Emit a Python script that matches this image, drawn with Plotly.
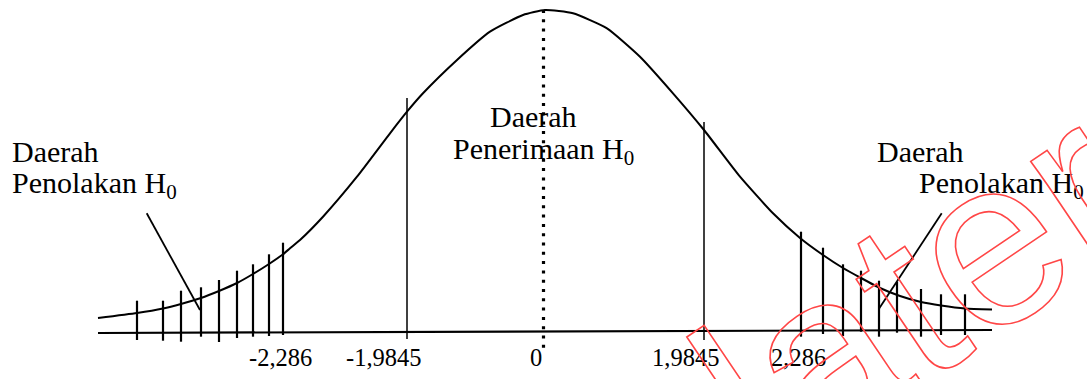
import plotly.graph_objects as go

# ---- data (schematic units = picture units) ----
curve_x = [98, 137, 163, 181, 201, 219, 237, 253, 269, 283, 290, 300, 323, 357, 390, 407, 423,
           457, 490, 523, 545, 573, 607, 640, 673, 704, 740, 773, 800, 823, 843, 861, 880,
           900, 921, 941, 965, 992]
curve_y = [318, 313, 308.5, 304, 298, 291, 283, 274, 264, 254.3, 248.3, 240, 216.7,
           176.7, 133.3, 111.7, 93.3, 60, 31.7, 15, 10, 13.3, 28.3, 56.7, 93.3, 130, 176.7,
           213.3, 238, 255, 268, 278, 288, 296, 302, 305.5, 308.5, 309.5]

axis_x = [98, 992]
axis_y = [333, 330]

left_hatch_x = [137, 163, 181, 201, 219, 237, 253, 269, 283]
left_hatch_top = [300.7, 300.7, 290.7, 287.3, 280, 270.7, 264.3, 254.3, 242.7]
left_hatch_bot = [340, 340.7, 341.7, 336.7, 342, 338, 336.7, 336, 335]

right_hatch_x = [801, 823, 843, 861, 879, 897, 921, 941, 965]
right_hatch_top = [231.7, 247.7, 264.3, 270.7, 280.7, 282, 289, 294.3, 294.3]
right_hatch_bot = [336.7, 334, 336, 331.7, 336.7, 332.7, 336.7, 335, 335]

crit_x = [407, 704]
crit_top = [98, 122]
crit_bot = [339, 340]

center_x = 543.5
center_top, center_bot = 10, 348

pointer_left = ([146.7, 200], [213.3, 310])
pointer_right = ([941.7, 879.3], [213.3, 308.3])

tick_text = ["-2,286", "-1,9845", "0", "1,9845", "2,286"]
tick_pos = [280, 384, 535.5, 685.5, 798.5]

region_labels = [
    ("Daerah", 10, 151, "left"),
    ("Penolakan H<sub>0</sub>", 10, 184.5, "left"),
    ("Daerah", 533.5, 116, "center"),
    ("Penerimaan H<sub>0</sub>", 543.5, 151, "center"),
    ("Daerah", 875, 151, "left"),
    ("Penolakan H<sub>0</sub>", 916.7, 184.5, "left"),
]

W, H = 1087, 379
SERIF = "Liberation Serif"


def segs(xs, tops, bots):
    X, Y = [], []
    for x, t, b in zip(xs, tops, bots):
        X += [x, x, None]
        Y += [t, b, None]
    return X, Y


fig = go.Figure()

fig.add_trace(go.Scatter(x=axis_x, y=axis_y, mode="lines",
                         line=dict(color="black", width=2.2), hoverinfo="skip"))
fig.add_trace(go.Scatter(x=curve_x, y=curve_y, mode="lines",
                         line=dict(color="black", width=2, shape="spline", smoothing=0.5),
                         hoverinfo="skip"))
hx, hy = segs(left_hatch_x + right_hatch_x, left_hatch_top + right_hatch_top,
              left_hatch_bot + right_hatch_bot)
fig.add_trace(go.Scatter(x=hx, y=hy, mode="lines",
                         line=dict(color="black", width=2.2), hoverinfo="skip"))
cx, cy = segs(crit_x, crit_top, crit_bot)
fig.add_trace(go.Scatter(x=cx, y=cy, mode="lines",
                         line=dict(color="black", width=1.5), hoverinfo="skip"))
fig.add_trace(go.Scatter(x=[center_x, center_x], y=[center_top, center_bot], mode="lines",
                         line=dict(color="black", width=3.2, dash="3px,6.3px"),
                         hoverinfo="skip"))
for px, py in (pointer_left, pointer_right):
    fig.add_trace(go.Scatter(x=px, y=py, mode="lines",
                             line=dict(color="black", width=1.8), hoverinfo="skip"))

annotations = []
for txt, x, y, anc in region_labels:
    annotations.append(dict(text=txt, x=x, y=y, xref="x", yref="y", showarrow=False,
                            xanchor=anc, yanchor="middle",
                            font=dict(family=SERIF, size=30, color="black")))
for txt, x in zip(tick_text, tick_pos):
    annotations.append(dict(text=txt, x=x, y=357, xref="x", yref="y", showarrow=False,
                            xanchor="center", yanchor="middle",
                            font=dict(family=SERIF, size=24.5, color="black")))
annotations.append(dict(text="later", x=915, y=291, xref="x", yref="y", showarrow=False,
                        xanchor="center", yanchor="middle", textangle=-34,
                        font=dict(family="Liberation Sans", size=238,
                                  color="rgb(255,80,80)")))

fig.update_layout(
    width=W, height=H,
    margin=dict(l=0, r=0, t=0, b=0),
    paper_bgcolor="white", plot_bgcolor="white",
    showlegend=False,
    xaxis=dict(range=[0, W], visible=False, fixedrange=True),
    yaxis=dict(range=[H, 0], visible=False, fixedrange=True),
    annotations=annotations,
)

post = """
(function(){
  document.body.style.margin = '0';
  document.body.style.overflow = 'hidden';
  function fix(){
    document.querySelectorAll('.annotation-text').forEach(function(t){
      if (t.textContent === 'later') {
        t.style.fill = 'none';
        t.style.stroke = 'rgb(255,70,70)';
        t.style.strokeWidth = '1.6px';
      }
    });
  }
  fix();
  setTimeout(fix, 50); setTimeout(fix, 300); setTimeout(fix, 1000);
  var gd = document.getElementById('{plot_id}');
  if (gd && gd.on) { gd.on('plotly_afterplot', fix); }
})();
"""

fig.write_html("out.html", post_script=post, config={"displayModeBar": False})
